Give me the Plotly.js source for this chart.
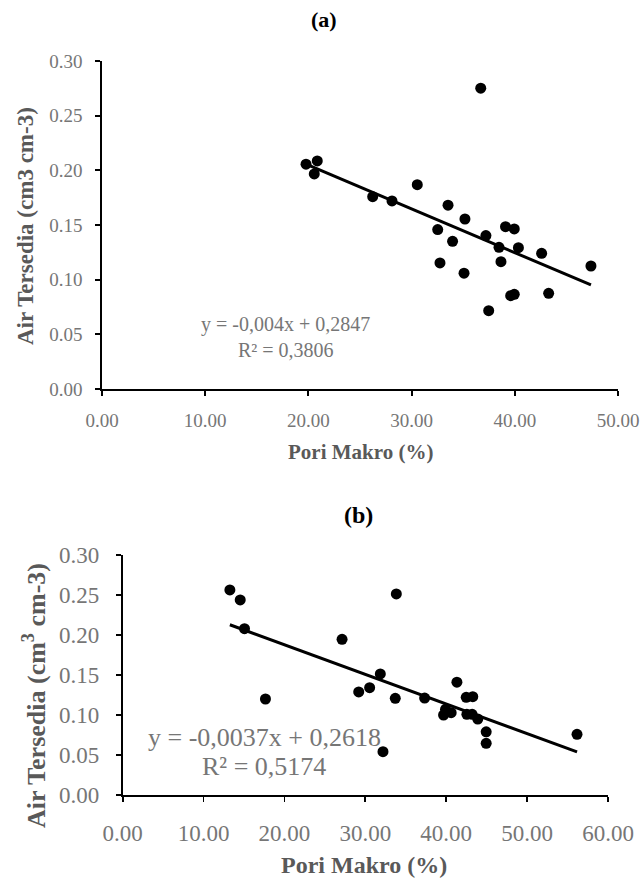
<!DOCTYPE html>
<html>
<head>
<meta charset="utf-8">
<script src="https://cdn.plot.ly/plotly-3.0.1.min.js"></script>
<style>html,body{margin:0;padding:0;background:#fff;}#chart{width:643px;height:882px;}</style>
</head>
<body>
<div id="chart"></div>
<script>
// ---- Data: chart (a)
var poriA = [19.77, 20.86, 20.57, 26.23, 28.10, 30.55, 33.53, 35.17, 32.53, 33.97, 32.75, 35.08, 36.70,
             37.20, 39.10, 39.95, 38.47, 40.35, 38.66, 42.60, 39.60, 39.95, 43.28, 37.47, 47.38];
var airA  = [0.2056, 0.2086, 0.1967, 0.1759, 0.1720, 0.1869, 0.1681, 0.1555, 0.1458, 0.1351, 0.1153, 0.1059, 0.2751,
             0.1403, 0.1485, 0.1464, 0.1296, 0.1293, 0.1165, 0.1241, 0.0854, 0.0866, 0.0875, 0.0716, 0.1125];
var slopeA = -0.004, interceptA = 0.2847;
var eqA = "y = -0,004x + 0,2847", r2A = "R² = 0,3806";

// ---- Data: chart (b)
var poriB = [13.25, 14.53, 15.06, 17.65, 27.12, 31.85, 29.18, 30.53, 33.83, 33.70, 32.18, 37.33, 41.32,
             39.91, 39.67, 40.61, 42.47, 43.28, 42.55, 43.20, 43.90, 44.94, 44.94, 56.17];
var airB  = [0.2563, 0.2438, 0.2079, 0.1200, 0.1946, 0.1513, 0.1288, 0.1342, 0.2513, 0.1208, 0.0542, 0.1211, 0.1410,
             0.1071, 0.1000, 0.1029, 0.1221, 0.1229, 0.1008, 0.1008, 0.0950, 0.0790, 0.0646, 0.0758];
var slopeB = -0.0037, interceptB = 0.2618;
var eqB = "y = -0,0037x + 0,2618", r2B = "R² = 0,5174";

var xTicksA = [0, 10, 20, 30, 40, 50];
var xTicksB = [0, 10, 20, 30, 40, 50, 60];
var yTicks  = [0, 0.05, 0.10, 0.15, 0.20, 0.25, 0.30];

function fitLine(xs, m, c) {
  var lo = Math.min.apply(null, xs), hi = Math.max.apply(null, xs);
  return {x: [lo, hi], y: [m * lo + c, m * hi + c]};
}
var lA = fitLine(poriA, slopeA, interceptA);
var lB = fitLine(poriB, slopeB, interceptB);

var W = 643, H = 882;
function px(x) { return x / W; }
function py(y) { return 1 - y / H; }

var FONT = "Liberation Serif, Times New Roman, serif";
var GRAY = "#595959", TICKGRAY = "#767676";

var traces = [
  {x: lA.x, y: lA.y, mode: "lines", line: {color: "#000", width: 3}, xaxis: "x", yaxis: "y", hoverinfo: "skip"},
  {x: poriA, y: airA, mode: "markers", marker: {color: "#000", size: 11}, xaxis: "x", yaxis: "y"},
  {x: lB.x, y: lB.y, mode: "lines", line: {color: "#000", width: 3}, xaxis: "x2", yaxis: "y2", hoverinfo: "skip"},
  {x: poriB, y: airB, mode: "markers", marker: {color: "#000", size: 11}, xaxis: "x2", yaxis: "y2"}
];

function axisCommon(fs, standoff) {
  return {
    showgrid: false, zeroline: false, showline: true, linecolor: "#000", linewidth: 1.8,
    ticks: "outside", ticklen: 5, tickwidth: 1.8, tickcolor: "#000",
    tickfont: {family: FONT, size: fs, color: TICKGRAY},
    tickformat: ".2f", automargin: false, ticklabelstandoff: standoff, fixedrange: true
  };
}

var xa = Object.assign(axisCommon(19, 8), {domain: [px(102), px(618)], range: [0, 50], tickvals: xTicksA, anchor: "y"});
var ya = Object.assign(axisCommon(19, 9), {domain: [py(389), py(61)], range: [0, 0.30], tickvals: yTicks, anchor: "x"});
var xb = Object.assign(axisCommon(23, 12), {domain: [px(122.7), px(608)], range: [0, 60], tickvals: xTicksB, anchor: "y2"});
var yb = Object.assign(axisCommon(23, 12), {domain: [py(795), py(555)], range: [0, 0.30], tickvals: yTicks, anchor: "x2"});

function ann(text, x, y, size, color, bold, angle) {
  return {
    text: bold ? "<b>" + text + "</b>" : text,
    xref: "paper", yref: "paper", x: px(x), y: py(y), xanchor: "center", yanchor: "middle",
    showarrow: false, textangle: angle || 0,
    font: {family: FONT, size: size, color: color}
  };
}

var layout = {
  width: W, height: H,
  margin: {l: 0, r: 0, t: 0, b: 0},
  paper_bgcolor: "#fff", plot_bgcolor: "#fff",
  showlegend: false,
  xaxis: xa, yaxis: ya, xaxis2: xb, yaxis2: yb,
  annotations: [
    ann("(a)", 324, 20, 22, "#000", true),
    ann("Pori Makro (%)", 360, 452, 21, GRAY, true),
    ann("Air Tersedia (cm3 cm-3)", 25, 226, 23, GRAY, true, -90),
    ann(eqA, 285, 325, 20, TICKGRAY, false),
    ann(r2A, 286, 350, 20, TICKGRAY, false),
    ann("(b)", 358, 515, 24, "#000", true),
    ann("Pori Makro (%)", 364, 865, 24, GRAY, true),
    ann("Air Tersedia (cm<sup>3</sup> cm-3)", 34, 696, 26, GRAY, true, -90),
    ann(eqB, 264, 737, 26, TICKGRAY, false),
    ann(r2B, 264, 766, 26, TICKGRAY, false)
  ]
};

Plotly.newPlot("chart", traces, layout, {staticPlot: true, displayModeBar: false});
</script>
</body>
</html>
